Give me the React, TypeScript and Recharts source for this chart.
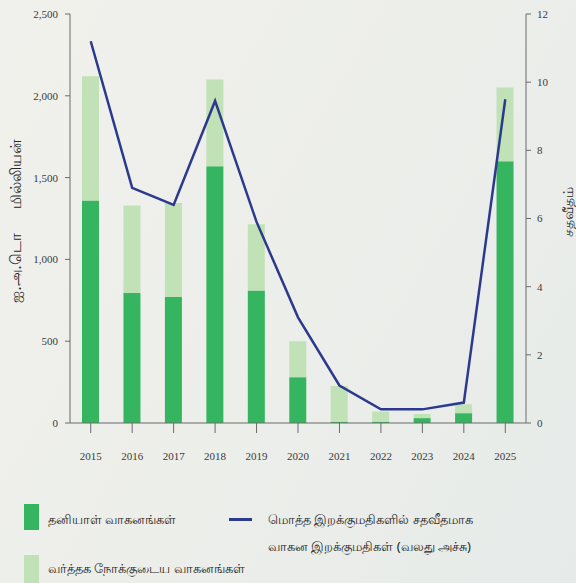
import { ComposedChart, Bar, Line, XAxis, YAxis } from "recharts"

const years = ["2015", "2016", "2017", "2018", "2019", "2020", "2021", "2022", "2023", "2024", "2025"]
const privateVehicles = [1360, 795, 770, 1570, 810, 280, 8, 8, 30, 60, 1600]
const commercialVehicles = [760, 535, 575, 530, 405, 220, 218, 62, 25, 55, 450]
const importShare = [11.2, 6.9, 6.4, 9.45, 5.9, 3.1, 1.1, 0.4, 0.4, 0.6, 9.5]

const leftTicks = [0, 500, 1000, 1500, 2000, 2500]
const rightTicks = [0, 2, 4, 6, 8, 10, 12]

const DARK = "#35b55f"
const LIGHT = "#c1e2b6"
const NAVY = "#2c3a8e"
const AXIS = "#6b6b6b"
const TEXT = "#262626"
const TICK_FONT = { fontSize: 11, fill: "#3a3a3a", fontFamily: "'Liberation Serif', serif" }

const data = years.map((year, i) => ({
  year,
  private: privateVehicles[i],
  commercial: commercialVehicles[i],
  share: importShare[i],
}))

const fmt = (v: number) => v.toLocaleString("en-US")

export default function App() {
  return (
    <div
      style={{
        position: "fixed",
        left: 0,
        top: 0,
        width: 576,
        height: 583,
        background: "linear-gradient(120deg, #f1f1ec 0%, #eceeea 55%, #e6ebe9 100%)",
        fontFamily: "'Noto Sans', sans-serif",
        overflow: "hidden",
      }}
    >
      <ComposedChart width={576} height={470} data={data} margin={{ top: 14, right: 0, bottom: 0, left: 0 }}>
        <XAxis
          dataKey="year"
          height={47}
          tickSize={10}
          tickMargin={19}
          tick={TICK_FONT}
          stroke={AXIS}
          axisLine={{ stroke: AXIS }}
          tickLine={{ stroke: AXIS }}
        />
        <YAxis
          yAxisId="left"
          width={70}
          domain={[0, 2500]}
          ticks={leftTicks}
          tickFormatter={fmt}
          tickSize={5}
          tickMargin={7}
          tick={TICK_FONT}
          stroke={AXIS}
          label={{
            content: () => (
              <text
                x={15}
                y={221}
                transform="rotate(-90 15 221)"
                textAnchor="middle"
                dominantBaseline="central"
                fontSize={15}
                fill={TEXT}
              >
                ஐ.அ.டொ
                <tspan dx={24}>மில்லியன்</tspan>
              </text>
            ),
          }}
        />
        <YAxis
          yAxisId="right"
          orientation="right"
          width={50}
          domain={[0, 12]}
          ticks={rightTicks}
          tickSize={5}
          tickMargin={6}
          tick={TICK_FONT}
          stroke={AXIS}
          label={{
            content: () => (
              <text
                x={567}
                y={212}
                transform="rotate(-90 567 212)"
                textAnchor="middle"
                dominantBaseline="central"
                fontSize={14}
                fill={TEXT}
              >
                சதவீதம்
              </text>
            ),
          }}
        />
        <Bar yAxisId="left" dataKey="private" stackId="a" fill={DARK} barSize={17} isAnimationActive={false} />
        <Bar yAxisId="left" dataKey="commercial" stackId="a" fill={LIGHT} barSize={17} isAnimationActive={false} />
        <Line
          yAxisId="right"
          dataKey="share"
          type="linear"
          stroke={NAVY}
          strokeWidth={2.5}
          dot={false}
          isAnimationActive={false}
        />
      </ComposedChart>
      <div style={{ position: "absolute", left: 24, top: 504, width: 15, height: 26, background: DARK }} />
      <div style={{ position: "absolute", left: 48, top: 510, fontSize: 13, color: TEXT, whiteSpace: "nowrap" }}>
        தனியாள் வாகனங்கள்
      </div>
      <div style={{ position: "absolute", left: 24, top: 555, width: 15, height: 28, background: LIGHT }} />
      <div style={{ position: "absolute", left: 48, top: 559, fontSize: 13, color: TEXT, whiteSpace: "nowrap" }}>
        வர்த்தக நோக்குடைய வாகனங்கள்
      </div>
      <div style={{ position: "absolute", left: 229, top: 518, width: 23, height: 3, background: NAVY }} />
      <div
        style={{
          position: "absolute",
          left: 268,
          top: 506,
          fontSize: 13,
          lineHeight: "27px",
          color: TEXT,
          whiteSpace: "nowrap",
        }}
      >
        மொத்த இறக்குமதிகளில் சதவீதமாக
        <br />
        வாகன இறக்குமதிகள் (வலது அச்சு)
      </div>
    </div>
  )
}
